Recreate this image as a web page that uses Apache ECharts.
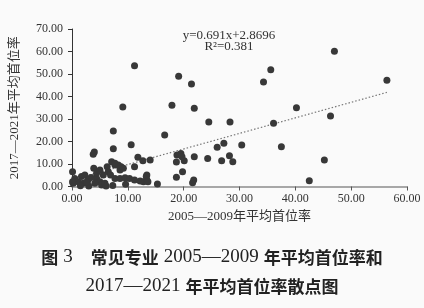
<!DOCTYPE html>
<html><head><meta charset="utf-8">
<script src="https://cdn.jsdelivr.net/npm/echarts@6/dist/echarts.min.js"></script>
<style>html,body{margin:0;padding:0;background:#fafafa}#c{width:424px;height:308px}</style>
</head><body><div id="c"></div>
<script>
// 2005—2009 avg (x), 2017—2021 avg (y)
const xVals = [47.0,35.6,34.3,56.4,40.2,46.3,36.1,37.5,45.2,42.5,
  19.1,21.4,17.9,21.9,24.5,28.3,16.6,27.2,30.4,26.0,
  24.3,26.8,28.2,28.8,11.2,9.1,7.4,10.6,7.4,4.0,3.8,
  21.9,20.1,19.5,18.7,14.0,11.8,12.7,11.2,18.8,19.7,
  19.8,18.7,21.8,21.6,15.3,13.4,12.8,12.2,13.4,
  0.1,3.9,6.3,7.1,7.7,6.5,5.6,8.8,8.6,8.3,7.7,9.2,
  6.9,7.7,8.6,9.5,10.3,11.2,13.3,13.6,
  0.5,1.1,0.2,1.7,2.3,2.9,2.0,4.4,5.0,4.1,5.3,5.9,3.0,4.4,5.0,6.1,1.5,0.1,7.3,9.6,3.4,2.6];
const yVals = [60.1,51.9,46.4,47.2,35.0,31.3,28.1,17.7,11.8,2.6,
  49.0,45.6,36.1,34.8,28.7,28.7,22.9,19.2,18.4,17.4,
  12.5,11.5,13.7,11.0,53.7,35.3,24.7,18.6,16.8,15.3,14.3,
  13.2,11.5,14.7,10.9,11.8,13.0,11.5,8.8,14.0,13.2,
  6.6,4.1,2.9,1.7,1.1,2.9,2.1,2.4,5.1,
  6.6,8.1,8.8,11.0,9.6,6.6,5.1,8.8,7.3,9.6,10.3,8.1,
  5.1,3.6,3.6,3.9,3.6,2.9,4.4,2.1,
  3.6,2.1,1.4,4.4,5.1,2.9,1.4,3.6,2.1,1.4,0.7,1.4,0.2,5.9,7.3,0.2,0.3,2.1,0.5,1.0,4.0,2.0];
const trendX = [0, 56.4];
const trendY = [2.87, 41.84];
const xTicks = [0,10,20,30,40,50,60];
const yTicks = [0,10,20,30,40,50,60,70];
const xName = '2005—2009年平均首位率';
const yName = '2017—2021年平均首位率';
const eqLine1 = 'y=0.691x+2.8696';
const eqLine2 = 'R²=0.381';

const pts = xVals.map((x,i)=>[x,yVals[i]]);
const trend = trendX.map((x,i)=>[x,trendY[i]]);
const serif = 'Liberation Serif, Noto Sans CJK SC';
const chart = echarts.init(document.getElementById('c'));
chart.setOption({
  backgroundColor:'#fafafa',
  animation:false,
  grid:{left:72,right:17,top:29,bottom:121.5},
  xAxis:{type:'value',min:xTicks[0],max:xTicks[xTicks.length-1],interval:10,
    name:xName,nameLocation:'middle',nameGap:24,
    nameTextStyle:{fontFamily:serif,fontSize:13,color:'#333'},
    axisLine:{show:true,lineStyle:{color:'#8c8c8c',width:1.5}},
    axisTick:{show:true,length:4,lineStyle:{color:'#555'}},
    axisLabel:{margin:6,fontFamily:serif,fontSize:12,color:'#333',formatter:v=>v.toFixed(2)},
    splitLine:{show:false}},
  yAxis:{type:'value',min:yTicks[0],max:yTicks[yTicks.length-1],interval:10,
    name:yName,nameLocation:'middle',nameGap:51,nameRotate:90,
    nameTextStyle:{fontFamily:serif,fontSize:13,color:'#333'},
    axisLine:{show:true,lineStyle:{color:'#333',width:1}},
    axisTick:{show:true,length:4,lineStyle:{color:'#333'}},
    axisLabel:{margin:9,fontFamily:serif,fontSize:12,color:'#333',formatter:v=>v.toFixed(2)},
    splitLine:{show:false}},
  title:{text:'{b|图} {n|3}　{b|常见专业} {n|2005—2009} {b|年平均首位率和}\n{n|2017—2021} {b|年平均首位率散点图}',
    left:'center',top:238,
    textStyle:{fontWeight:'normal',rich:{
      b:{fontFamily:'Noto Sans CJK SC',fontWeight:'bold',fontSize:17,color:'#222',lineHeight:29},
      n:{fontFamily:'Liberation Serif',fontWeight:'normal',fontSize:19,color:'#222',lineHeight:29}}}},
  graphic:[
    {type:'text',x:229,y:36,style:{text:eqLine1,fontFamily:serif,fontSize:13,fill:'#333',align:'center',verticalAlign:'middle'}},
    {type:'text',x:229,y:47,style:{text:eqLine2,fontFamily:serif,fontSize:13,fill:'#333',align:'center',verticalAlign:'middle'}}
  ],
  series:[
    {type:'line',data:trend,symbol:'none',silent:true,z:1,
     lineStyle:{color:'#777',width:1.2,type:[1.5,2]}},
    {type:'scatter',data:pts,symbolSize:7,z:3,itemStyle:{color:'#383838',opacity:1}}
  ]
});
</script></body></html>
